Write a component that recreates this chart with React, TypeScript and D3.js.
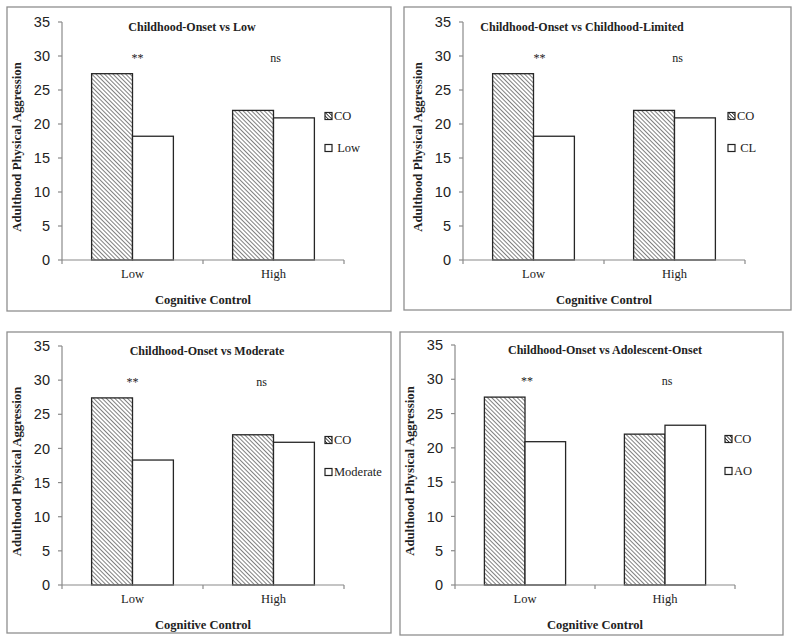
import React from "react";
import * as d3 from "d3";

const categories = ["Low", "High"];
const yTicks = [0, 5, 10, 15, 20, 25, 30, 35];
const coValues = [27.4, 22.0];
const lowValues = [18.2, 20.9];
const clValues = [18.2, 20.9];
const moderateValues = [18.3, 20.9];
const aoValues = [20.9, 23.3];
const significance = ["**", "ns"];
const panelTitles = [
  "Childhood-Onset vs Low",
  "Childhood-Onset vs Childhood-Limited",
  "Childhood-Onset vs Moderate",
  "Childhood-Onset vs Adolescent-Onset",
];
const coLabel = "CO";
const comparisonLabels = [" Low", " CL", "Moderate", "AO"];
const comparisonValues = [lowValues, clValues, moderateValues, aoValues];
const yAxisTitle = "Adulthood Physical Aggression";
const xAxisTitle = "Cognitive Control";

const layouts = [
  { border: [7, 7, 384, 304], x0: 62, x1: 344, yTop: 22, yBot: 260, titleX: 192, legendX: 325, sigDx: [5, 2] },
  { border: [404, 7, 387, 303], x0: 463, x1: 745, yTop: 22, yBot: 260, titleX: 582, legendX: 728, sigDx: [6, 3] },
  { border: [7, 332, 384, 301], x0: 62, x1: 344, yTop: 346, yBot: 585, titleX: 207, legendX: 325, sigDx: [0, -12] },
  { border: [400, 332, 383, 303], x0: 455, x1: 735, yTop: 345, yBot: 585, titleX: 605, legendX: 725, sigDx: [2, 2] },
];

const serif = "'Liberation Serif', 'Times New Roman', serif";
const sans = "'Liberation Sans', Arial, sans-serif";
const textColor = "#222";
const axisColor = "#8a8a8a";

function Panel({ idx }: { idx: number }) {
  const L = layouts[idx];
  const series = [coValues, comparisonValues[idx]];
  const x = d3.scaleBand().domain(categories).range([L.x0, L.x1]).paddingInner(0.42).paddingOuter(0.21);
  const xs = d3.scaleBand().domain(["0", "1"]).range([0, x.bandwidth()]);
  const y = d3.scaleLinear().domain([0, 35]).range([L.yBot, L.yTop]);
  const step = (L.x1 - L.x0) / categories.length;
  const boundaries = d3.range(categories.length + 1).map((i) => L.x0 + i * step);
  const [bx, by, bw, bh] = L.border;
  const legendItems = [coLabel, comparisonLabels[idx]];
  return (
    <g>
      <rect x={bx} y={by} width={bw} height={bh} fill="white" stroke="#8f8f8f" strokeWidth={1.3} />
      <line x1={L.x0} x2={L.x0} y1={y(35)} y2={y(0)} stroke={axisColor} strokeWidth={1.2} />
      {yTicks.map((t) => (
        <g key={t}>
          <line x1={L.x0 - 4} x2={L.x0} y1={y(t)} y2={y(t)} stroke={axisColor} strokeWidth={1.2} />
          <text x={L.x0 - 12} y={y(t)} dy="0.35em" textAnchor="end" fontFamily={sans} fontSize={14.5} fill={textColor}>
            {t}
          </text>
        </g>
      ))}
      {categories.map((c, ci) =>
        series.map((vals, si) => (
          <rect
            key={c + si}
            x={(x(c) as number) + (xs(String(si)) as number)}
            y={y(vals[ci])}
            width={xs.bandwidth()}
            height={y(0) - y(vals[ci])}
            fill={si === 0 ? "url(#hatch)" : "white"}
            stroke="#262626"
            strokeWidth={1.3}
          />
        ))
      )}
      <line x1={L.x0} x2={L.x1} y1={y(0)} y2={y(0)} stroke={axisColor} strokeWidth={1.2} />
      {boundaries.map((b, i) => (
        <line key={i} x1={b} x2={b} y1={y(0)} y2={y(0) + 4} stroke={axisColor} strokeWidth={1.2} />
      ))}
      {categories.map((c) => (
        <text key={c} x={(x(c) as number) + x.bandwidth() / 2} y={y(0) + 18} textAnchor="middle" fontFamily={serif} fontSize={12.5} fill={textColor}>
          {c}
        </text>
      ))}
      {categories.map((c, ci) => (
        <text key={"s" + c} x={(x(c) as number) + x.bandwidth() / 2 + L.sigDx[ci]} y={L.yTop + 40} textAnchor="middle" fontFamily={serif} fontSize={12} fill={textColor}>
          {significance[ci]}
        </text>
      ))}
      <text x={L.titleX} y={L.yTop + 9} textAnchor="middle" fontFamily={serif} fontWeight="bold" fontSize={12} fill={textColor}>
        {panelTitles[idx]}
      </text>
      <text
        transform={`translate(${L.x0 - 41},${(L.yTop + L.yBot) / 2 + 6}) rotate(-90)`}
        textAnchor="middle"
        fontFamily={serif}
        fontWeight="bold"
        fontSize={12.8}
        fill={textColor}
      >
        {yAxisTitle}
      </text>
      <text x={(L.x0 + L.x1) / 2} y={y(0) + 44} textAnchor="middle" fontFamily={serif} fontWeight="bold" fontSize={12.5} fill={textColor}>
        {xAxisTitle}
      </text>
      {legendItems.map((lab, li) => {
        const cy = L.yTop + 94 + li * 32;
        return (
          <g key={li}>
            <rect x={L.legendX} y={cy - 3.5} width={7} height={7} fill={li === 0 ? "url(#hatchSmall)" : "white"} stroke="#222" strokeWidth={1.2} />
            <text x={L.legendX + 9} y={cy} dy="0.35em" fontFamily={serif} fontSize={12.5} fill={textColor} style={{ whiteSpace: "pre" }}>
              {lab}
            </text>
          </g>
        );
      })}
    </g>
  );
}

export default function App() {
  return (
    <svg width={800} height={643} style={{ position: "absolute", left: 0, top: 0, background: "white" }}>
      <defs>
        <pattern id="hatch" patternUnits="userSpaceOnUse" width={3} height={3} patternTransform="rotate(-45)">
          <rect width={3} height={3} fill="white" />
          <line x1={0} y1={0} x2={0} y2={3} stroke="#3a3a3a" strokeWidth={1.3} />
        </pattern>
        <pattern id="hatchSmall" patternUnits="userSpaceOnUse" width={2.5} height={2.5} patternTransform="rotate(-45)">
          <rect width={2.5} height={2.5} fill="white" />
          <line x1={0} y1={0} x2={0} y2={2.5} stroke="#222" strokeWidth={1.6} />
        </pattern>
      </defs>
      <rect width={800} height={643} fill="white" />
      {layouts.map((_, i) => (
        <Panel key={i} idx={i} />
      ))}
    </svg>
  );
}
